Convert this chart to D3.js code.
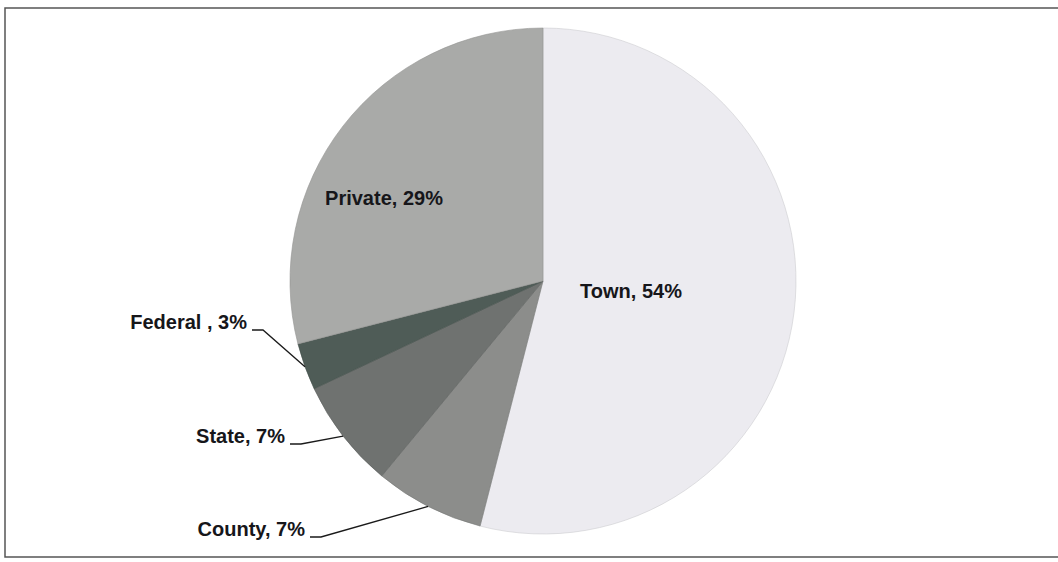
<!DOCTYPE html>
<html>
<head>
<meta charset="utf-8">
<script src="https://cdn.jsdelivr.net/npm/d3@7"></script>
<style>
  html, body { margin: 0; padding: 0; background: #fff; }
  svg { display: block; }
</style>
</head>
<body>
<div id="chart"></div>
<script>
// slice data, clockwise from 12 o'clock
const categories = ['Town', 'County', 'State', 'Federal ', 'Private'];
const shares = [54, 7, 7, 3, 29];
const sliceColors = ['#ecebf0', '#8c8d8b', '#6f7270', '#4f5c57', '#a9aaa8'];

const width = 1058, height = 562;
const cx = 543, cy = 281, radius = 253;

// label placement: inside labels sit at a point, outside ones get a leader line
const labelLayout = [
  { inside: true, x: 631, y: 298 },
  { inside: false, x: 305, y: 536 },
  { inside: false, x: 285, y: 443 },
  { inside: false, x: 247, y: 329 },
  { inside: true, x: 384, y: 205 }
];

const data = categories.map((c, i) => ({ name: c, value: shares[i], color: sliceColors[i] }));

const svg = d3.select('#chart')
  .append('svg')
  .attr('width', width)
  .attr('height', height);

// frame
svg.append('rect')
  .attr('x', 5).attr('y', 8)
  .attr('width', width + 10).attr('height', 549)
  .attr('fill', 'none')
  .attr('stroke', '#555')
  .attr('stroke-width', 1.5);

const g = svg.append('g')
  .attr('transform', `translate(${cx},${cy})`);

const pie = d3.pie().sort(null).value(d => d.value);
const arcs = pie(data);
const arc = d3.arc().innerRadius(0).outerRadius(radius);
const edgeArc = d3.arc().innerRadius(radius * 2).outerRadius(0); // centroid = point on rim

g.selectAll('path.slice')
  .data(arcs)
  .join('path')
  .attr('class', 'slice')
  .attr('d', arc)
  .attr('fill', d => d.data.color)
  .attr('stroke', d => d3.color(d.data.color).darker(0.4))
  .attr('stroke-width', 0.6);

// leader lines
arcs.forEach((a, i) => {
  const lay = labelLayout[i];
  if (lay.inside) return;
  const rim = edgeArc.centroid(a);
  const x0 = lay.x + 5 - cx, y0 = lay.y + 1 - cy;
  g.append('path')
    .attr('d', d3.line()([[x0, y0], [x0 + 11, y0], rim]))
    .attr('fill', 'none')
    .attr('stroke', '#1a1a1a')
    .attr('stroke-width', 1.3);
});

// labels
svg.selectAll('text.lbl')
  .data(arcs)
  .join('text')
  .attr('class', 'lbl')
  .attr('x', (d, i) => labelLayout[i].x)
  .attr('y', (d, i) => labelLayout[i].y)
  .attr('text-anchor', (d, i) => labelLayout[i].inside ? 'middle' : 'end')
  .attr('font-family', 'Liberation Sans, Arial, sans-serif')
  .attr('font-weight', 'bold')
  .attr('font-size', 20)
  .attr('fill', '#16161a')
  .text(d => `${d.data.name}, ${d.data.value}%`);
</script>
</body>
</html>
